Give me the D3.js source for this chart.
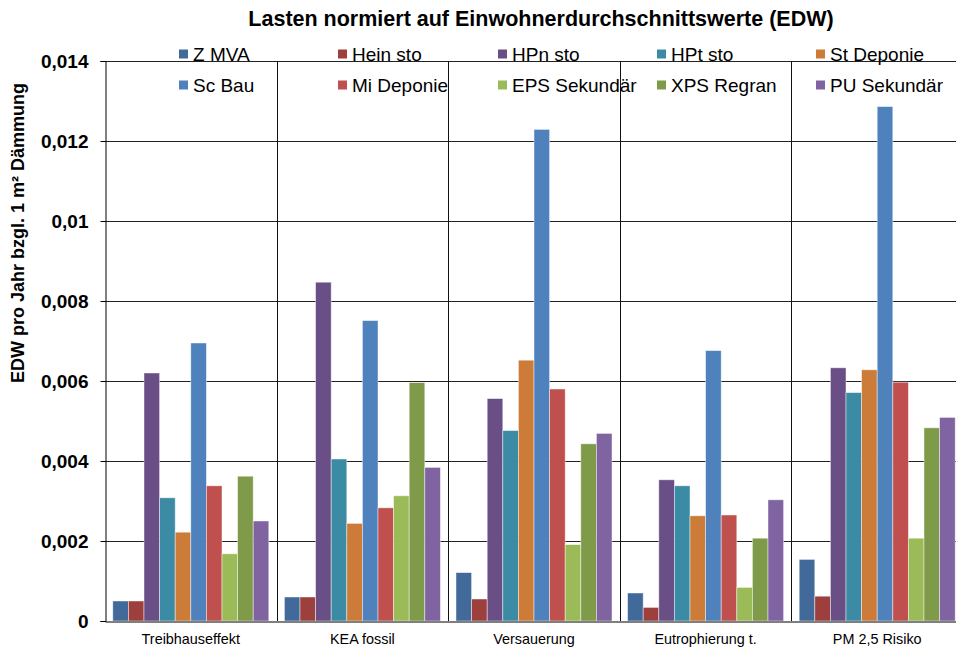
<!DOCTYPE html>
<html>
<head>
<meta charset="utf-8">
<script src="https://cdn.jsdelivr.net/npm/d3@7"></script>
<style>
html,body{margin:0;padding:0;background:#fff;}
svg{display:block;font-family:"Liberation Sans",Arial,sans-serif;}
</style>
</head>
<body>
<svg id="chart" width="956" height="650"></svg>
<script>
const title = "Lasten normiert auf Einwohnerdurchschnittswerte (EDW)";
const yLabel = "EDW pro Jahr bzgl. 1 m² Dämmung";
const categories = ["Treibhauseffekt", "KEA fossil", "Versauerung", "Eutrophierung t.", "PM 2,5 Risiko"];
const seriesNames = ["Z MVA", "Hein sto", "HPn sto", "HPt sto", "St Deponie", "Sc Bau", "Mi Deponie", "EPS Sekundär", "XPS Regran", "PU Sekundär"];
const seriesColors = ["#416A9B", "#9D3F3C", "#6A4F87", "#3C8BA5", "#CC7B38", "#4F81BD", "#C0504D", "#9BBB59", "#7F9A48", "#8064A2"];
// values per series, in category order
const zMVA       = [0.00050, 0.00060, 0.00121, 0.00070, 0.00154];
const heinSto    = [0.00050, 0.00060, 0.00055, 0.00034, 0.00062];
const hpnSto     = [0.00620, 0.00847, 0.00556, 0.00353, 0.00633];
const hptSto     = [0.00308, 0.00405, 0.00476, 0.00338, 0.00571];
const stDeponie  = [0.00222, 0.00244, 0.00652, 0.00263, 0.00628];
const scBau      = [0.00695, 0.00751, 0.01229, 0.00676, 0.01286];
const miDeponie  = [0.00338, 0.00283, 0.00580, 0.00265, 0.00597];
const epsSek     = [0.00168, 0.00313, 0.00191, 0.00084, 0.00207];
const xpsRegran  = [0.00362, 0.00596, 0.00443, 0.00207, 0.00483];
const puSek      = [0.00250, 0.00384, 0.00469, 0.00303, 0.00509];
const seriesValues = [zMVA, heinSto, hpnSto, hptSto, stDeponie, scBau, miDeponie, epsSek, xpsRegran, puSek];
const yTicks = [0, 0.002, 0.004, 0.006, 0.008, 0.01, 0.012, 0.014];
const yTickLabels = ["0", "0,002", "0,004", "0,006", "0,008", "0,01", "0,012", "0,014"];

const svg = d3.select("#chart");
const plot = {left: 105, right: 963, top: 61, bottom: 621};

const x = d3.scaleBand().domain(categories).range([plot.left, plot.right]).padding(0);
const xs = d3.scaleBand().domain(seriesNames).range([0, x.bandwidth()]).paddingInner(0).paddingOuter(0.5);
const y = d3.scaleLinear().domain([0, 0.014]).range([plot.bottom, plot.top]);

// horizontal gridlines
svg.append("g").selectAll("line").data(yTicks.slice(1)).join("line")
  .attr("x1", plot.left).attr("x2", 956)
  .attr("y1", d => Math.round(y(d)) + 0.5).attr("y2", d => Math.round(y(d)) + 0.5)
  .attr("stroke", "#222").attr("stroke-width", 1);

// vertical category separators
svg.append("g").selectAll("line").data(categories.slice(1)).join("line")
  .attr("x1", d => Math.round(x(d)) + 0.5).attr("x2", d => Math.round(x(d)) + 0.5)
  .attr("y1", plot.top).attr("y2", plot.bottom)
  .attr("stroke", "#111").attr("stroke-width", 1);

// bars
const groups = svg.append("g").selectAll("g").data(seriesNames).join("g")
  .attr("fill", (d, i) => seriesColors[i]);
groups.each(function(name, si) {
  d3.select(this).selectAll("rect").data(categories).join("rect")
    .attr("x", c => x(c) + xs(name))
    .attr("width", xs.bandwidth())
    .attr("y", (c, ci) => y(seriesValues[si][ci]))
    .attr("height", (c, ci) => y(0) - y(seriesValues[si][ci]))
    .attr("stroke", "#ffffff").attr("stroke-opacity", 0.55).attr("stroke-width", 0.8);
});

// y axis
const yAxis = d3.axisLeft(y).tickValues(yTicks).tickSize(5).tickPadding(12)
  .tickFormat((d, i) => yTickLabels[i]);
const ya = svg.append("g").attr("transform", `translate(${plot.left + 0.5},0)`).call(yAxis);
ya.select(".domain").attr("stroke", "#000");
ya.selectAll(".tick line").attr("stroke", "#000");
ya.selectAll(".tick text").attr("font-size", "19px").attr("font-weight", "bold")
  .attr("fill", "#000").attr("font-family", "'Liberation Sans',Arial,sans-serif");

// x axis
const xAxis = d3.axisBottom(x).tickSize(0).tickPadding(12);
const xa = svg.append("g").attr("transform", `translate(0,${plot.bottom + 0.5})`).call(xAxis);
xa.select(".domain").attr("stroke", "#000");
xa.selectAll(".tick text").attr("font-size", "14.4px").attr("fill", "#000")
  .attr("font-family", "'Liberation Sans',Arial,sans-serif");

// title
svg.append("text").attr("x", 541).attr("y", 26).attr("text-anchor", "middle")
  .attr("font-size", "21.5px").attr("font-weight", "bold").text(title);

// y label
svg.append("text").attr("transform", "translate(24,233) rotate(-90)")
  .attr("text-anchor", "middle").attr("font-size", "18px").attr("font-weight", "bold").text(yLabel);

// legend
const legendCols = [179, 338, 498, 657, 816];
const legend = svg.append("g").selectAll("g").data(seriesNames).join("g")
  .attr("transform", (d, i) => `translate(${legendCols[i % 5]},${49.5 + Math.floor(i / 5) * 31})`);
legend.append("rect").attr("width", 9).attr("height", 9).attr("fill", (d, i) => seriesColors[i]);
legend.append("text").attr("x", 14).attr("y", 11).attr("font-size", "19px").attr("fill", "#000").text(d => d);
</script>
</body>
</html>
